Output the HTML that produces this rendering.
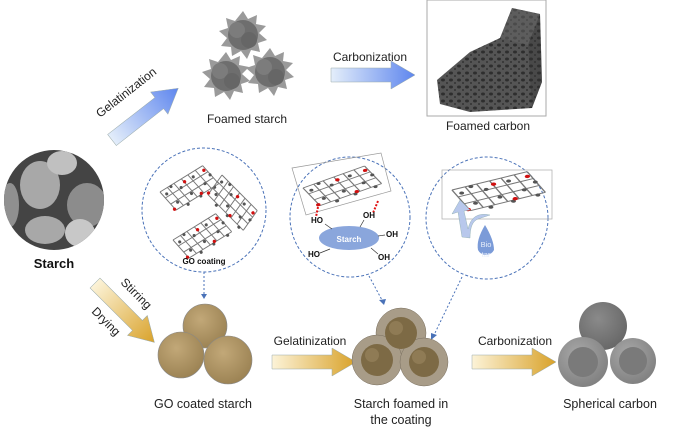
<!DOCTYPE html>
<html><head><meta charset="utf-8"><style>
html,body{margin:0;padding:0;background:#fff;}
svg{display:block;font-family:"Liberation Sans",sans-serif;}
</style></head><body>
<svg width="700" height="439" viewBox="0 0 700 439" xmlns="http://www.w3.org/2000/svg">
<defs>
<linearGradient id="bl" x1="0" y1="0" x2="1" y2="0"><stop offset="0" stop-color="#e4eefa"/><stop offset="1" stop-color="#5e86ee"/></linearGradient>
<linearGradient id="gd" x1="0" y1="0" x2="1" y2="0"><stop offset="0" stop-color="#fcf3d8"/><stop offset="1" stop-color="#d9a22a"/></linearGradient>
<radialGradient id="tan" cx="0.4" cy="0.35" r="0.7"><stop offset="0" stop-color="#c2a878"/><stop offset="1" stop-color="#9a8152"/></radialGradient>
<radialGradient id="gr" cx="0.4" cy="0.35" r="0.7"><stop offset="0" stop-color="#8a8a8a"/><stop offset="1" stop-color="#666"/></radialGradient>
<radialGradient id="lg" cx="0.4" cy="0.35" r="0.7"><stop offset="0" stop-color="#a8a8a8"/><stop offset="1" stop-color="#7f7f7f"/></radialGradient>
<pattern id="foam" width="8" height="7" patternUnits="userSpaceOnUse"><rect width="8" height="7" fill="#555"/><ellipse cx="3" cy="3" rx="2" ry="1.5" fill="#2e2e2e"/><circle cx="7" cy="6" r="1" fill="#333"/></pattern>
<clipPath id="sc"><circle cx="54" cy="200" r="50"/></clipPath>
<g id="arr"><polygon points="0,-7 60,-7 60,-14 84,0 60,14 60,7 0,7" stroke="#9aa" stroke-width="0.5"/></g>
<g id="spiky"><polygon points="0,-24 5,-16 14,-20 13,-11 23,-9 16,-2 24,5 15,8 17,17 8,15 4,24 -2,16 -11,21 -12,12 -22,11 -16,3 -24,-4 -15,-7 -17,-17 -8,-14" fill="#9a9a9a"/><circle r="15" fill="#6e6e6e"/><circle cx="-6" cy="-5" r="8" fill="#7c7c7c"/><circle cx="6" cy="5" r="8" fill="#666"/></g>
<g id="sheet"><g stroke="#777" stroke-width="0.8" fill="none"><path d="M0,0 L40,-12 M3,6 L43,-6 M6,12 L46,0 M9,18 L49,6 M0,0 L9,18 M7,-2 L16,16 M13,-4 L22,14 M20,-6 L29,12 M26,-8 L35,10 M33,-10 L42,8 M40,-12 L49,6"/></g><g fill="#555"><circle cx="5" cy="3" r="1.3"/><circle cx="18" cy="1" r="1.3"/><circle cx="30" cy="-5" r="1.3"/><circle cx="12" cy="12" r="1.3"/><circle cx="25" cy="8" r="1.3"/><circle cx="38" cy="3" r="1.3"/><circle cx="20" cy="16" r="1.3"/><circle cx="44" cy="-3" r="1.3"/><circle cx="10" cy="-2" r="1.3"/><circle cx="32" cy="12" r="1.3"/><circle cx="45" cy="8" r="1.3"/></g><g fill="#d01010"><circle cx="22" cy="-3" r="1.4"/><circle cx="33" cy="10" r="1.4"/><circle cx="8" cy="17" r="1.4"/><circle cx="40" cy="-8" r="1.4"/></g></g>
</defs>

<!-- Starch SEM -->
<circle cx="54" cy="200" r="50" fill="#444"/>
<g clip-path="url(#sc)">
<ellipse cx="40" cy="185" rx="20" ry="24" fill="#a8a8a8"/>
<ellipse cx="62" cy="163" rx="15" ry="12" fill="#c0c0c0"/>
<ellipse cx="87" cy="205" rx="20" ry="22" fill="#8c8c8c"/>
<ellipse cx="45" cy="230" rx="20" ry="14" fill="#a8a8a8"/>
<ellipse cx="80" cy="233" rx="15" ry="14" fill="#c8c8c8"/>
<ellipse cx="10" cy="205" rx="9" ry="22" fill="#909090"/>
</g>
<text x="54" y="268" font-size="13" font-weight="bold" text-anchor="middle" fill="#111">Starch</text>

<!-- top gelatinization -->
<g transform="translate(112,140) rotate(-38)"><use href="#arr" fill="url(#bl)"/></g>
<text transform="translate(100,118) rotate(-38)" font-size="12" fill="#222">Gelatinization</text>
<use href="#spiky" x="243" y="35"/><use href="#spiky" x="226" y="76"/><use href="#spiky" x="270" y="72"/>
<text x="247" y="123" font-size="12" text-anchor="middle" fill="#222">Foamed starch</text>
<g transform="translate(331,75)"><use href="#arr" fill="url(#bl)"/></g>
<text x="370" y="61" font-size="12" text-anchor="middle" fill="#222">Carbonization</text>
<rect x="427" y="0" width="119" height="116" fill="#fff" stroke="#aaa"/>
<polygon points="437,80 470,52 500,38 512,8 540,14 542,82 532,108 470,112 440,104" fill="url(#foam)"/>
<polygon points="500,38 512,8 540,14 528,45" fill="#666" opacity="0.5"/>
<polygon points="528,45 540,14 542,82 532,108" fill="#333" opacity="0.35"/>
<text x="488" y="130" font-size="12" text-anchor="middle" fill="#222">Foamed carbon</text>

<!-- GO coating circle -->
<circle cx="204" cy="210" r="62" fill="none" stroke="#4a72b8" stroke-dasharray="3,2" stroke-width="1"/>
<use href="#sheet" transform="translate(160,192) rotate(-15) scale(1.2)"/>
<use href="#sheet" transform="translate(222,175) rotate(62) scale(1.2)"/>
<use href="#sheet" transform="translate(173,240) rotate(-15) scale(1.2)"/>
<text x="204" y="264" font-size="8" font-weight="bold" text-anchor="middle" fill="#111">GO coating</text>
<line x1="204" y1="272" x2="204" y2="294" stroke="#4a72b8" stroke-dasharray="2,2"/>
<polygon points="201,294 207,294 204,299" fill="#4a72b8"/>

<!-- stirring arrow -->
<g transform="translate(95,283) rotate(45)"><use href="#arr" fill="url(#gd)"/></g>
<text transform="translate(120,283) rotate(45)" font-size="12" fill="#222">Stirring</text>
<text transform="translate(91,312) rotate(45)" font-size="12" fill="#222">Drying</text>
<circle cx="205" cy="326" r="22" fill="url(#tan)" stroke="#888" stroke-width="0.6"/>
<circle cx="181" cy="355" r="23" fill="url(#tan)" stroke="#888" stroke-width="0.6"/>
<circle cx="228" cy="360" r="24" fill="url(#tan)" stroke="#888" stroke-width="0.6"/>
<text x="203" y="408" font-size="12.5" text-anchor="middle" fill="#222">GO coated starch</text>

<g transform="translate(272,362)"><use href="#arr" fill="url(#gd)"/></g>
<text x="310" y="345" font-size="12" text-anchor="middle" fill="#222">Gelatinization</text>

<!-- starch circle -->
<circle cx="350" cy="217" r="60" fill="none" stroke="#4a72b8" stroke-dasharray="3,2"/>
<polygon points="292,168 381,153 391,191 306,215" fill="none" stroke="#999" stroke-width="0.7"/>
<use href="#sheet" transform="translate(303,188) rotate(-8) scale(1.6,1.1)"/>
<line x1="318" y1="207" x2="316" y2="217" stroke="#e01010" stroke-width="2" stroke-dasharray="2,1.5"/>
<line x1="378" y1="201" x2="373" y2="213" stroke="#e01010" stroke-width="2" stroke-dasharray="2,1.5"/>
<ellipse cx="349" cy="238" rx="30" ry="12" fill="#8aa6dc"/>
<text x="349" y="242" font-size="8" font-weight="bold" fill="#fff" text-anchor="middle">Starch</text>
<g font-size="8" font-weight="bold" fill="#111"><text x="311" y="223">HO</text><text x="363" y="218">OH</text><text x="386" y="237">OH</text><text x="308" y="257">HO</text><text x="378" y="260">OH</text></g>
<g stroke="#333" stroke-width="0.7"><line x1="325" y1="224" x2="332" y2="229"/><line x1="364" y1="220" x2="360" y2="227"/><line x1="378" y1="236" x2="385" y2="235"/><line x1="320" y1="253" x2="330" y2="249"/><line x1="371" y1="248" x2="378" y2="254"/></g>
<line x1="369" y1="276" x2="382" y2="300" stroke="#4a72b8" stroke-dasharray="2,2"/>
<polygon points="379,300 386,299 384,305" fill="#4a72b8"/>

<!-- biotar circle -->
<circle cx="487" cy="218" r="61" fill="none" stroke="#4a72b8" stroke-dasharray="3,2"/>
<rect x="442" y="170" width="110" height="49" fill="none" stroke="#aaa" stroke-width="0.7"/>
<use href="#sheet" transform="translate(452,190) rotate(-3) scale(1.9,1.2)"/>
<path d="M462,237 L458,212 L452,214 L460,200 L470,210 L464,211 L468,229 Q472,211 490,215 L478,219 Q470,222 470,238 Z" fill="#b8c8ec" stroke="#8aa" stroke-width="0.4"/>
<path d="M485,225 Q476,240 478,250 A9,9 0 0 0 494,250 Q494,240 485,225 Z" fill="#7b9bd8"/>
<text x="486" y="247" font-size="7.5" fill="#e8eefa" text-anchor="middle">Bio</text>
<text x="486" y="257" font-size="7.5" fill="#e8eefa" text-anchor="middle">tar</text>
<line x1="462" y1="277" x2="434" y2="335" stroke="#4a72b8" stroke-dasharray="2,2"/>
<polygon points="431,333 437,335 431,340" fill="#4a72b8"/>

<!-- foamed in coating -->
<circle cx="401" cy="333" r="25" fill="#a89c88" stroke="#7a7060" stroke-width="0.5"/>
<circle cx="377" cy="360" r="25" fill="#a89c88" stroke="#7a7060" stroke-width="0.5"/>
<circle cx="424" cy="362" r="24" fill="#a89c88" stroke="#7a7060" stroke-width="0.5"/>
<g fill="#7d6a45"><circle cx="401" cy="333" r="16"/><circle cx="377" cy="360" r="16"/><circle cx="424" cy="362" r="15"/></g>
<g fill="#8f7b55"><circle cx="396" cy="328" r="7"/><circle cx="372" cy="355" r="7"/><circle cx="419" cy="357" r="7"/></g>
<text x="401" y="408" font-size="12.5" text-anchor="middle" fill="#222">Starch foamed in</text>
<text x="401" y="424" font-size="12.5" text-anchor="middle" fill="#222">the coating</text>

<g transform="translate(472,362)"><use href="#arr" fill="url(#gd)"/></g>
<text x="515" y="345" font-size="12" text-anchor="middle" fill="#222">Carbonization</text>

<circle cx="603" cy="326" r="24" fill="url(#gr)"/>
<circle cx="583" cy="362" r="25" fill="url(#lg)"/>
<circle cx="633" cy="361" r="23" fill="url(#lg)"/>
<circle cx="583" cy="362" r="15" fill="#7a7a7a"/><circle cx="633" cy="361" r="14" fill="#7a7a7a"/>
<text x="610" y="408" font-size="12.5" text-anchor="middle" fill="#222">Spherical carbon</text>
</svg>
</body></html>
